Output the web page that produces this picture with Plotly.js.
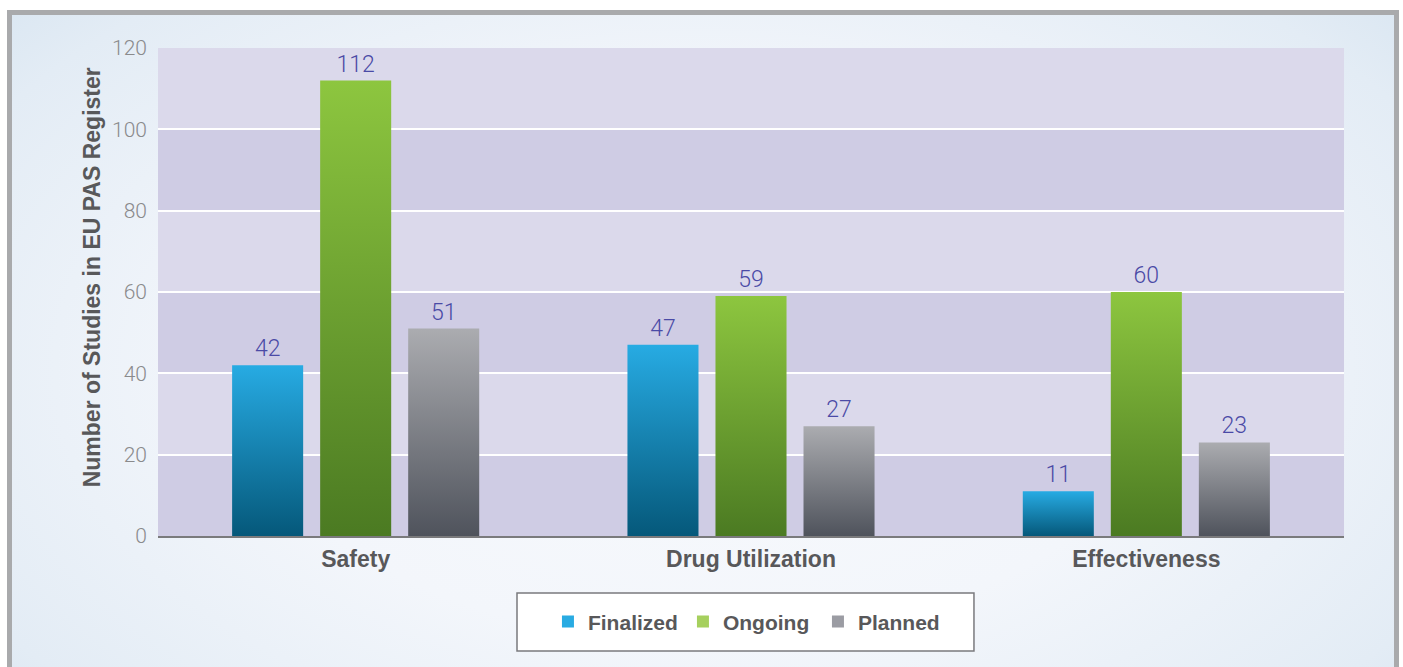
<!DOCTYPE html>
<html>
<head>
<meta charset="utf-8">
<script src="https://cdn.plot.ly/plotly-3.0.1.min.js"></script>
<style>
  html, body { margin: 0; padding: 0; width: 1403px; height: 667px; overflow: hidden; background: #ffffff; }
  #frame {
    position: absolute; left: 7px; top: 10px; width: 1392px; height: 720px;
    box-sizing: border-box; border: 5px solid #a9aaac;
    background: radial-gradient(ellipse 75% 85% at 50% 50%, #f8fafd 0%, #f3f6fb 45%, #e3ecf5 80%, #d3e2ef 100%);
  }
  #chart { position: absolute; left: 0; top: 0; width: 1403px; height: 667px; }
</style>
</head>
<body>
<div id="frame"></div>
<div id="chart"></div>
<script>
// ---- data ----
const categories = ["Safety", "Drug Utilization", "Effectiveness"];
const seriesNames = ["Finalized", "Ongoing", "Planned"];
const finalized = [42, 47, 11];
const ongoing = [112, 59, 60];
const planned = [51, 27, 23];
const yTicks = [0, 20, 40, 60, 80, 100, 120];
const yTitle = "Number of Studies in EU PAS Register";

// ---- styles ----
const boldFont = "'Liberation Sans', Arial, sans-serif";
const light = "Roboto, 'Liberation Sans', sans-serif";
const legendColors = ["#29abe2", "#a6d05e", "#9b9ca3"];
const gradStops = [["#27abe3", "#05587a"], ["#8dc63f", "#4b7a22"], ["#abacb0", "#4f535c"]];
const labelColor = "#4a4aa6";

const seriesValues = [finalized, ongoing, planned];
const traces = seriesValues.map((vals, i) => ({
  type: "bar",
  name: seriesNames[i],
  x: categories,
  y: vals,
  text: vals.map(String),
  textposition: "outside",
  cliponaxis: false,
  textfont: { family: light, size: 23, color: labelColor, weight: 300 },
  marker: { color: legendColors[i], line: { width: 0 } },
  hoverinfo: "x+y+name"
}));

// alternating background bands between y ticks
const bandShapes = [];
for (let k = 0; k < yTicks.length - 1; k++) {
  bandShapes.push({
    type: "rect", xref: "paper", yref: "y", layer: "below",
    x0: 0, x1: 1, y0: yTicks[k], y1: yTicks[k + 1],
    fillcolor: (k % 2 === 0) ? "#cfcce4" : "#dbd9eb",
    line: { width: 0 }
  });
}
// legend box
bandShapes.push({
  type: "rect", xref: "paper", yref: "paper", layer: "above",
  x0: 0.3027, x1: 0.688, y0: -0.2357, y1: -0.1168,
  fillcolor: "#ffffff", line: { color: "#7a7a7e", width: 1.5 }
});

const layout = {
  width: 1403, height: 667,
  margin: { l: 158, r: 59, t: 48, b: 131, pad: 0 },
  paper_bgcolor: "rgba(0,0,0,0)",
  plot_bgcolor: "rgba(0,0,0,0)",
  barmode: "group",
  bargap: 0.332,
  bargroupgap: 0.193,
  showlegend: true,
  legend: {
    orientation: "h", x: 0.3288, xanchor: "left", y: -0.176, yanchor: "middle",
    bgcolor: "rgba(0,0,0,0)", borderwidth: 0,
    font: { family: boldFont, size: 21, color: "#58585a", weight: 700 },
    itemwidth: 30, entrywidth: 90, entrywidthmode: "pixels",
    itemclick: false, itemdoubleclick: false
  },
  xaxis: {
    range: [-0.5, 2.5], type: "category",
    showline: true, linecolor: "#7a7a7c", linewidth: 2,
    showgrid: false, zeroline: false, ticks: "",
    ticklabelstandoff: 1,
    tickfont: { family: boldFont, size: 23, color: "#58585a", weight: 700 },
    fixedrange: true
  },
  yaxis: {
    range: [0, 120], tickvals: yTicks, ticktext: yTicks.map(String),
    showgrid: true, gridcolor: "#ffffff", gridwidth: 1.5,
    zeroline: false, showline: false, ticks: "",
    ticklabelstandoff: 10,
    tickfont: { family: light, size: 21, color: "#8a8a8c", weight: 300 },
    fixedrange: true
  },
  shapes: bandShapes,
  annotations: [{
    text: yTitle, xref: "paper", yref: "paper",
    x: -0.0557, y: 0.53, xanchor: "center", yanchor: "middle",
    textangle: -90, showarrow: false,
    font: { family: boldFont, size: 23, color: "#58585a", weight: 700 }
  }]
};

Plotly.newPlot("chart", traces, layout, { displayModeBar: false }).then(gd => {
  const svg = gd.querySelector("svg.main-svg");
  const ns = "http://www.w3.org/2000/svg";
  let defs = svg.querySelector("defs");
  if (!defs) { defs = document.createElementNS(ns, "defs"); svg.insertBefore(defs, svg.firstChild); }
  gradStops.forEach((stops, i) => {
    const lg = document.createElementNS(ns, "linearGradient");
    lg.setAttribute("id", "barGrad" + i);
    lg.setAttribute("x1", "0"); lg.setAttribute("y1", "0");
    lg.setAttribute("x2", "0"); lg.setAttribute("y2", "1");
    [[0, stops[0]], [1, stops[1]]].forEach(([off, col]) => {
      const s = document.createElementNS(ns, "stop");
      s.setAttribute("offset", off);
      s.setAttribute("stop-color", col);
      lg.appendChild(s);
    });
    defs.appendChild(lg);
  });
  const traceGroups = gd.querySelectorAll(".barlayer .trace");
  traceGroups.forEach((tg, i) => {
    tg.querySelectorAll("path").forEach(p => { p.style.fill = "url(#barGrad" + i + ")"; });
  });
});
</script>
</body>
</html>
